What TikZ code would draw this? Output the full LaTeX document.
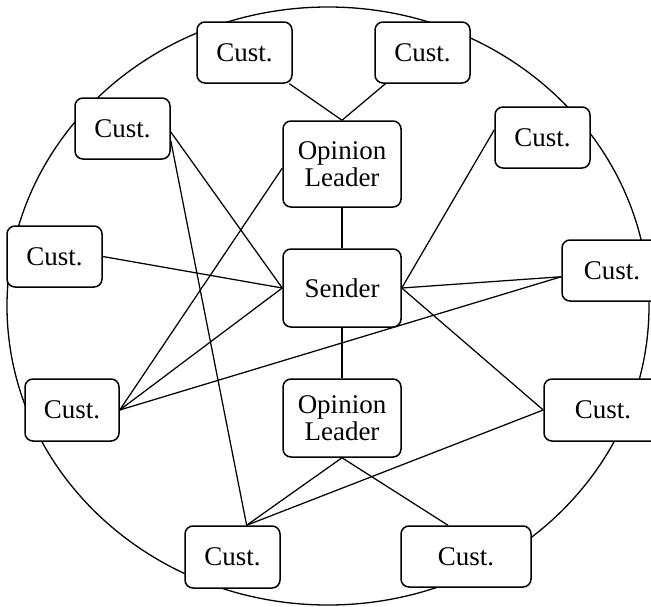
\documentclass[tikz,border=0pt]{standalone}
\usepackage{fontspec}
\setmainfont{Liberation Serif}
\usetikzlibrary{backgrounds}
\tikzset{
  box/.style={draw, line width=1.5pt, rounded corners=8pt, fill=white, inner sep=0pt,
    font=\fontsize{27pt}{27pt}\selectfont, align=center},
  cust/.style={box, minimum width=95pt, minimum height=61pt},
  big/.style={box, minimum width=118pt},
  link/.style={line width=1.25pt},
}
\begin{document}
\begin{tikzpicture}[x=1pt,y=-1pt]
\useasboundingbox (0,0) rectangle (651,606);
% nodes
\node[cust] (tl1) at (244.5,52.5) {Cust.};
\node[cust] (tr1) at (422.5,52.5) {Cust.};
\node[cust] (l1) at (122.5,128.5) {Cust.};
\node[cust] (l2) at (54.5,256.5) {Cust.};
\node[big, minimum height=86pt] (ol1) at (342,164) {Opinion\\Leader};
\node[big, minimum height=78pt] (snd) at (342,288) {Sender};
\node[cust] (r1) at (542.5,137.5) {Cust.};
\node[cust, minimum width=100pt] (r2) at (612,270.5) {Cust.};
\node[cust, minimum width=94pt, minimum height=62pt] (l3) at (72,410) {Cust.};
\node[big, minimum height=78pt] (ol2) at (342,418) {Opinion\\Leader};
\node[cust, minimum width=118pt, minimum height=62pt] (r3) at (603,410) {Cust.};
\node[cust, minimum height=62pt] (b1) at (232.5,557) {Cust.};
\node[cust, minimum width=130pt] (b2) at (466,556.5) {Cust.};
\begin{pgfonlayer}{background}
\draw[line width=1.3pt] (328,306) ellipse [x radius=321, y radius=299];
\draw[link] (tl1) -- (ol1.north);
\draw[link] (tr1) -- (ol1.north);
\draw[link] (ol1) -- (snd);
\draw[link] (snd) -- (ol2);
\draw[link] (l1.356) -- (snd.west);
\draw[link] (l1.346) -- (b1.66);
\draw[link] (l2.east) -- (snd.west);
\draw[link] (l3.east) -- (ol1.184);
\draw[link] (l3.east) -- (snd.west);
\draw[link] (l3.east) -- (r2.187);
\draw[link] (snd.east) -- (r1.171);
\draw[link] (snd.east) -- (r2.187);
\draw[link] (snd.east) -- (r3.west);
\draw[link] (r3.west) -- (b1.66);
\draw[link] (ol2.south) -- (b1.66);
\draw[link] (ol2.south) -- (b2.120);
\end{pgfonlayer}
\end{tikzpicture}
\end{document}
